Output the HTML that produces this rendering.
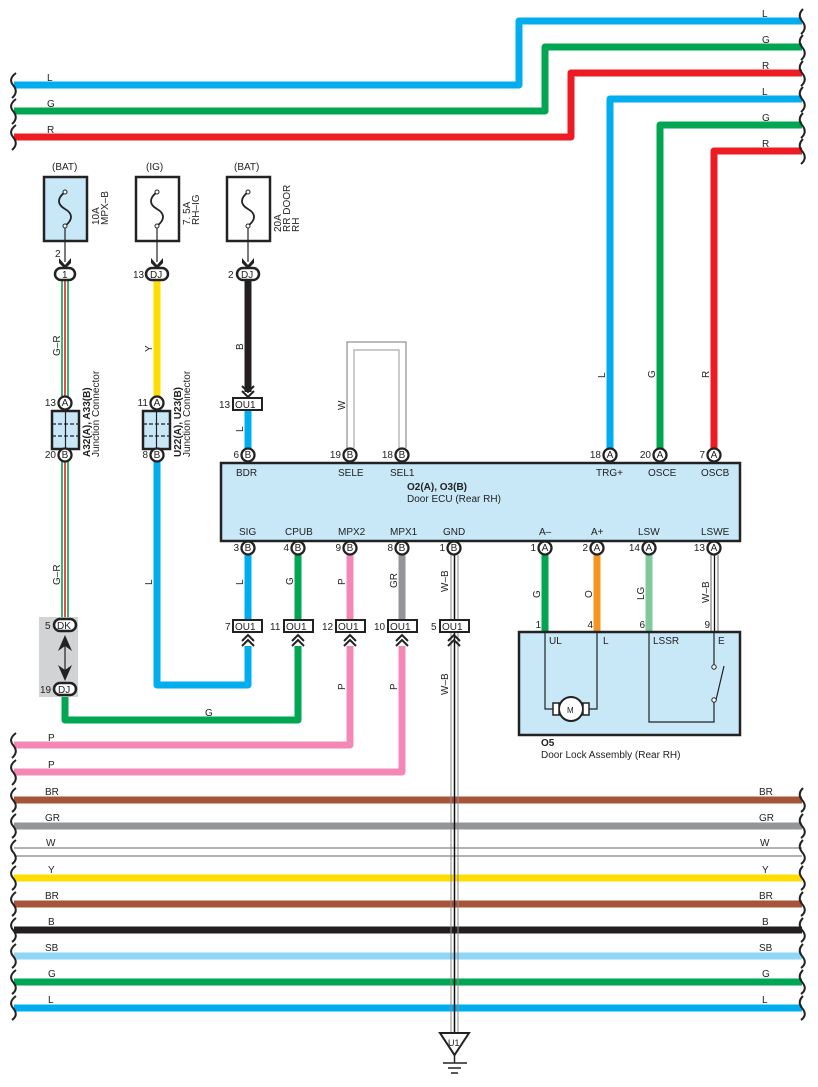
<!DOCTYPE html>
<html><head><meta charset="utf-8"><style>
html,body{margin:0;padding:0;background:#fff;}
svg{display:block;font-family:"Liberation Sans",sans-serif;}
text{font-size:10px;fill:#222;}
.pl{font-size:10px;}
</style></head><body>
<svg width="818" height="1087" viewBox="0 0 818 1087" xmlns="http://www.w3.org/2000/svg">
<g fill="none" stroke-width="7" stroke-linejoin="round">
<path d="M802 21 H519 V85 H14" stroke="#00aeef"/>
<path d="M802 47 H545 V111 H14" stroke="#00a651"/>
<path d="M802 73 H571 V137 H14" stroke="#ed1c24"/>
<path d="M802 99 H610 V449" stroke="#00aeef"/>
<path d="M802 125 H660 V449" stroke="#00a651"/>
<path d="M802 151 H714 V449" stroke="#ed1c24"/>
<path d="M14 800 H802" stroke="#a6553a"/>
<path d="M14 826 H802" stroke="#939598"/>
<path d="M14 878 H802" stroke="#ffdd00"/>
<path d="M14 904 H802" stroke="#a6553a"/>
<path d="M14 930 H802" stroke="#231f20"/>
<path d="M14 956 H802" stroke="#8fd6f7"/>
<path d="M14 982 H802" stroke="#00a651"/>
<path d="M14 1008 H802" stroke="#00aeef"/>
<path d="M157 281 V398" stroke="#ffdd00"/>
<path d="M157 461 V685 H248 V646" stroke="#00aeef"/>
<path d="M248 281 V392" stroke="#231f20"/>
<path d="M248 411 V448" stroke="#00aeef"/>
<path d="M65 696 V720 H298 V646" stroke="#00a651"/>
<path d="M248 555 V619" stroke="#00aeef"/>
<path d="M298 555 V619" stroke="#00a651"/>
<path d="M350 555 V619" stroke="#f388b6"/>
<path d="M402 555 V619" stroke="#939598"/>
<path d="M350 646 V745 H14" stroke="#f388b6"/>
<path d="M402 646 V772 H14" stroke="#f388b6"/>
<path d="M545 555 V632" stroke="#00a651"/>
<path d="M597 555 V632" stroke="#f7941d"/>
<path d="M649 555 V632" stroke="#80c99c"/>
</g>
<path d="M14 848 H802 M14 856 H802" stroke="#666" stroke-width="1"/>
<g stroke-width="1.6">
<path d="M62 281 V398 M62 461 V618" stroke="#00a651"/>
<path d="M65 281 V398 M65 461 V618" stroke="#ed1c24"/>
<path d="M68 281 V398 M68 461 V618" stroke="#00a651"/>
</g>
<path d="M347 448 V342 H406 V448" fill="none" stroke="#777" stroke-width="1"/>
<path d="M354 448 V350 H399 V448" fill="none" stroke="#aaa" stroke-width="1.2"/>
<path d="M451 555 V1032 M458 555 V1032" stroke="#888" stroke-width="1"/>
<path d="M454.5 555 V1032" stroke="#111" stroke-width="1.5"/>
<path d="M711 555 V632 M718 555 V632" stroke="#666" stroke-width="1"/>
<path d="M714.5 555 V632" stroke="#111" stroke-width="1.3"/>
<g fill="none" stroke="#222" stroke-width="2">
<path d="M16 73 Q8 79 13 85 Q19 92 12 98 M16 99 Q8 105 13 111 Q19 118 12 124 M16 125 Q8 131 13 137 Q19 144 12 150"/>
<path d="M16 733 Q8 739 13 745 Q19 752 12 758 M16 760 Q8 766 13 772 Q19 779 12 785"/>
<path d="M16 788 Q8 794 13 800 Q19 807 12 812 M16 814 Q8 820 13 826 Q19 833 12 838 M16 840 Q8 846 13 852 Q19 859 12 864 M16 866 Q8 872 13 878 Q19 885 12 890 M16 892 Q8 898 13 904 Q19 911 12 916 M16 918 Q8 924 13 930 Q19 937 12 942 M16 944 Q8 950 13 956 Q19 963 12 968 M16 970 Q8 976 13 982 Q19 989 12 994 M16 996 Q8 1002 13 1008 Q19 1015 12 1020"/>
<path d="M803 9 Q797 15 802 21 Q808 28 801 34 M803 35 Q797 41 802 47 Q808 54 801 60 M803 61 Q797 67 802 73 Q808 80 801 86 M803 87 Q797 93 802 99 Q808 106 801 112 M803 113 Q797 119 802 125 Q808 132 801 138 M803 139 Q797 145 802 151 Q808 158 801 164"/>
<path d="M803 788 Q797 794 802 800 Q808 807 801 812 M803 814 Q797 820 802 826 Q808 833 801 838 M803 840 Q797 846 802 852 Q808 859 801 864 M803 866 Q797 872 802 878 Q808 885 801 890 M803 892 Q797 898 802 904 Q808 911 801 916 M803 918 Q797 924 802 930 Q808 937 801 942 M803 944 Q797 950 802 956 Q808 963 801 968 M803 970 Q797 976 802 982 Q808 989 801 994 M803 996 Q797 1002 802 1008 Q808 1015 801 1020"/>
</g>
<g class="pl">
<text x="47" y="81">L</text><text x="47" y="107">G</text><text x="47" y="133">R</text>
<text x="762" y="17">L</text><text x="762" y="43">G</text><text x="762" y="69">R</text>
<text x="762" y="95">L</text><text x="762" y="121">G</text><text x="762" y="147">R</text>
<text x="48" y="741">P</text><text x="48" y="768">P</text>
<text x="45" y="795">BR</text><text x="45" y="821">GR</text><text x="46" y="846">W</text><text x="48" y="873">Y</text><text x="45" y="899">BR</text><text x="48" y="925">B</text><text x="45" y="951">SB</text><text x="48" y="977">G</text><text x="48" y="1003">L</text>
<text x="759" y="795">BR</text><text x="759" y="821">GR</text><text x="760" y="846">W</text><text x="762" y="873">Y</text><text x="759" y="899">BR</text><text x="762" y="925">B</text><text x="759" y="951">SB</text><text x="762" y="977">G</text><text x="762" y="1003">L</text>
<text x="205" y="716">G</text>
</g>
<g stroke="#222" stroke-width="2.5">
<rect x="44" y="177" width="43" height="64" fill="#c8e8f8"/>
<rect x="136" y="177" width="43" height="64" fill="#fff"/>
<rect x="227" y="177" width="43" height="64" fill="#fff"/>
</g>
<g fill="none" stroke="#222" stroke-width="1.8">
<path d="M65 192 C56 199 58 205 65 209 C72 213 74 219 65 226"/>
<path d="M157 192 C148 199 150 205 157 209 C164 213 166 219 157 226"/>
<path d="M248 192 C239 199 241 205 248 209 C255 213 257 219 248 226"/>
<path d="M65 226 V262 M157 226 V262 M248 226 V262" stroke-width="1.2"/>
</g>
<g fill="#fff" stroke="#222" stroke-width="1"><circle cx="65" cy="192" r="2"/><circle cx="65" cy="226" r="2"/><circle cx="157" cy="192" r="2"/><circle cx="157" cy="226" r="2"/><circle cx="248" cy="192" r="2"/><circle cx="248" cy="226" r="2"/></g>
<g fill="#222"><path d="M59 258 L65 265 L71 258 L71 263 L65 269 L59 263Z"/><path d="M151 258 L157 265 L163 258 L163 263 L157 269 L151 263Z"/><path d="M242 258 L248 265 L254 258 L254 263 L248 269 L242 263Z"/></g>
<text x="52" y="170">(BAT)</text><text x="146" y="170">(IG)</text><text x="234" y="170">(BAT)</text>
<text transform="translate(99,225) rotate(-90)">10A</text><text transform="translate(108,225) rotate(-90)">MPX–B</text>
<text transform="translate(190,225) rotate(-90)">7. 5A</text><text transform="translate(199,225) rotate(-90)">RH–IG</text>
<text transform="translate(281,232) rotate(-90)">20A</text><text transform="translate(290,232) rotate(-90)">RR DOOR</text><text transform="translate(299,232) rotate(-90)">RH</text>
<text x="55" y="257">2</text>
<g fill="#fff" stroke="#222" stroke-width="2.5">
<rect x="55" y="268" width="20" height="12" rx="6"/><rect x="146" y="268" width="22" height="12" rx="6"/><rect x="237" y="268" width="22" height="12" rx="6"/>
</g>
<rect x="39" y="617" width="39" height="80" fill="#d1d3d4"/>
<g fill="#fff" stroke="#222" stroke-width="2.5"><rect x="54" y="619" width="22" height="12" rx="6"/><rect x="54" y="683" width="22" height="12" rx="6"/></g>
<path d="M65 640 V676" stroke="#222" stroke-width="1.2"/>
<path d="M58 651 L65 635 L72 651 L65 646Z M58 665 L65 681 L72 665 L65 670Z" fill="#222"/>
<g><text x="57" y="629">DK</text><text x="58" y="693">DJ</text><text x="62" y="278">1</text><text x="150" y="278">DJ</text><text x="241" y="278">DJ</text>
<text x="133" y="278">13</text><text x="228" y="278">2</text><text x="45" y="629">5</text><text x="40" y="693">19</text></g>
<g stroke="#222" stroke-width="2.5" fill="#c8e8f8"><rect x="52" y="411" width="27" height="38"/><rect x="143" y="411" width="27" height="38"/></g>
<path d="M65.5 411 V449 M156.5 411 V449" stroke="#222" stroke-width="1.2"/>
<path d="M52 424 H79 M52 436 H79 M143 424 H170 M143 436 H170" stroke="#222" stroke-width="1.2" stroke-dasharray="4 2"/>
<text transform="translate(90,457) rotate(-90)" font-weight="bold">A32(A), A33(B)</text><text transform="translate(99,457) rotate(-90)">Junction Connector</text>
<text transform="translate(181,457) rotate(-90)" font-weight="bold">U22(A), U23(B)</text><text transform="translate(190,457) rotate(-90)">Junction Connector</text>
<g fill="#fff" stroke="#222" stroke-width="2"><rect x="233" y="398" width="29" height="12"/>
<rect x="233" y="620" width="29" height="12"/><rect x="284" y="620" width="29" height="12"/><rect x="336" y="620" width="29" height="12"/><rect x="388" y="620" width="29" height="12"/><rect x="440" y="620" width="29" height="12"/></g>
<g><text x="235" y="408">OU1</text><text x="235" y="630">OU1</text><text x="286" y="630">OU1</text><text x="338" y="630">OU1</text><text x="390" y="630">OU1</text><text x="442" y="630">OU1</text>
<text x="219" y="408">13</text><text x="225" y="630">7</text><text x="270" y="630">11</text><text x="322" y="630">12</text><text x="374" y="630">10</text><text x="431" y="630">5</text></g>
<g fill="none" stroke="#222" stroke-width="2"><path d="M242 386 L248 392 L254 386 M242 391 L248 397 L254 391"/>
<path d="M242 641 L248 635 L254 641 M242 646 L248 640 L254 646"/><path d="M292 641 L298 635 L304 641 M292 646 L298 640 L304 646"/><path d="M344 641 L350 635 L356 641 M344 646 L350 640 L356 646"/><path d="M396 641 L402 635 L408 641 M396 646 L402 640 L408 646"/><path d="M448 641 L454 635 L460 641 M448 646 L454 640 L460 646"/></g>
<rect x="221" y="463" width="519" height="78" fill="#c8e8f8" stroke="#222" stroke-width="2.5"/>
<g>
<text x="236" y="476">BDR</text><text x="338" y="476">SELE</text><text x="390" y="476">SEL1</text><text x="596" y="476">TRG+</text><text x="648" y="476">OSCE</text><text x="701" y="476">OSCB</text>
<text x="407" y="490" font-weight="bold">O2(A), O3(B)</text><text x="407" y="502">Door ECU (Rear RH)</text>
<text x="239" y="535">SIG</text><text x="285" y="535">CPUB</text><text x="338" y="535">MPX2</text><text x="390" y="535">MPX1</text><text x="443" y="535">GND</text><text x="539" y="535">A–</text><text x="591" y="535">A+</text><text x="638" y="535">LSW</text><text x="701" y="535">LSWE</text>
</g>
<g fill="#fff" stroke="#222" stroke-width="2.3">
<circle cx="65" cy="403" r="6.5"/><circle cx="65" cy="455" r="6.5"/><circle cx="157" cy="403" r="6.5"/><circle cx="157" cy="455" r="6.5"/>
<circle cx="248" cy="455" r="6.5"/><circle cx="350" cy="455" r="6.5"/><circle cx="402" cy="455" r="6.5"/><circle cx="610" cy="455" r="6.5"/><circle cx="660" cy="455" r="6.5"/><circle cx="714" cy="455" r="6.5"/>
<circle cx="248" cy="548" r="6.5"/><circle cx="298" cy="548" r="6.5"/><circle cx="350" cy="548" r="6.5"/><circle cx="402" cy="548" r="6.5"/><circle cx="454" cy="548" r="6.5"/><circle cx="545" cy="548" r="6.5"/><circle cx="597" cy="548" r="6.5"/><circle cx="649" cy="548" r="6.5"/><circle cx="714" cy="548" r="6.5"/>
</g>
<g text-anchor="middle" style="font-size:9.5px">
<text x="65" y="406">A</text><text x="65" y="458">B</text><text x="157" y="406">A</text><text x="157" y="458">B</text>
<text x="248" y="458">B</text><text x="350" y="458">B</text><text x="402" y="458">B</text><text x="610" y="458">A</text><text x="660" y="458">A</text><text x="714" y="458">A</text>
<text x="248" y="551">B</text><text x="298" y="551">B</text><text x="350" y="551">B</text><text x="402" y="551">B</text><text x="454" y="551">B</text><text x="545" y="551">A</text><text x="597" y="551">A</text><text x="649" y="551">A</text><text x="714" y="551">A</text>
</g>
<g text-anchor="end">
<text x="56" y="406">13</text><text x="56" y="458">20</text><text x="148" y="406">11</text><text x="148" y="458">8</text>
<text x="239" y="458">6</text><text x="341" y="458">19</text><text x="393" y="458">18</text><text x="601" y="458">18</text><text x="651" y="458">20</text><text x="705" y="458">7</text>
<text x="239" y="551">3</text><text x="289" y="551">4</text><text x="341" y="551">9</text><text x="393" y="551">8</text><text x="445" y="551">1</text><text x="536" y="551">1</text><text x="588" y="551">2</text><text x="640" y="551">14</text><text x="705" y="551">13</text>
<text x="541" y="628">1</text><text x="593" y="628">4</text><text x="645" y="628">6</text><text x="710" y="628">9</text>
</g>
<g>
<text transform="translate(60,356) rotate(-90)">G–R</text><text transform="translate(60,585) rotate(-90)">G–R</text>
<text transform="translate(152,352) rotate(-90)">Y</text><text transform="translate(243,350) rotate(-90)">B</text><text transform="translate(243,432) rotate(-90)">L</text>
<text transform="translate(152,585) rotate(-90)">L</text><text transform="translate(345,410) rotate(-90)">W</text>
<text transform="translate(605,378) rotate(-90)">L</text><text transform="translate(655,378) rotate(-90)">G</text><text transform="translate(709,378) rotate(-90)">R</text>
<text transform="translate(243,585) rotate(-90)">L</text><text transform="translate(293,585) rotate(-90)">G</text><text transform="translate(345,585) rotate(-90)">P</text><text transform="translate(397,588) rotate(-90)">GR</text><text transform="translate(448,592) rotate(-90)">W–B</text>
<text transform="translate(345,690) rotate(-90)">P</text><text transform="translate(397,690) rotate(-90)">P</text><text transform="translate(448,695) rotate(-90)">W–B</text>
<text transform="translate(540,598) rotate(-90)">G</text><text transform="translate(592,598) rotate(-90)">O</text><text transform="translate(644,600) rotate(-90)">LG</text><text transform="translate(709,603) rotate(-90)">W–B</text>
</g>
<rect x="519" y="632" width="221" height="103" fill="#c8e8f8" stroke="#222" stroke-width="2.5"/>
<g fill="none" stroke="#222" stroke-width="1.2">
<path d="M545 632 V709 H556 M586 709 H597 V632"/>
<path d="M649 632 V722 H714 V701 M714 632 V666"/>
<path d="M716 700 L724 666"/>
</g>
<circle cx="571" cy="709" r="12" fill="#fff" stroke="#222" stroke-width="2"/>
<rect x="553" y="703" width="6" height="12" fill="#fff" stroke="#222" stroke-width="1.5"/>
<rect x="583" y="703" width="6" height="12" fill="#fff" stroke="#222" stroke-width="1.5"/>
<text x="567" y="713" style="font-size:8px">M</text>
<circle cx="714" cy="667" r="2.2" fill="#fff" stroke="#222"/><circle cx="714" cy="700" r="2.2" fill="#fff" stroke="#222"/>
<g><text x="549" y="644">UL</text><text x="603" y="644">L</text><text x="653" y="644">LSSR</text><text x="718" y="644">E</text>
<text x="541" y="746" font-weight="bold">O5</text><text x="541" y="758">Door Lock Assembly (Rear RH)</text></g>
<path d="M440 1033 H469 L454.5 1055 Z" fill="#fff" stroke="#222" stroke-width="2"/>
<text x="448" y="1046" style="font-size:9px">U1</text>
<path d="M454.5 1055 V1063 M443 1063 H467 M448 1068 H461 M451 1073 H458" stroke="#222" stroke-width="1.5"/>
</svg>
</body></html>
